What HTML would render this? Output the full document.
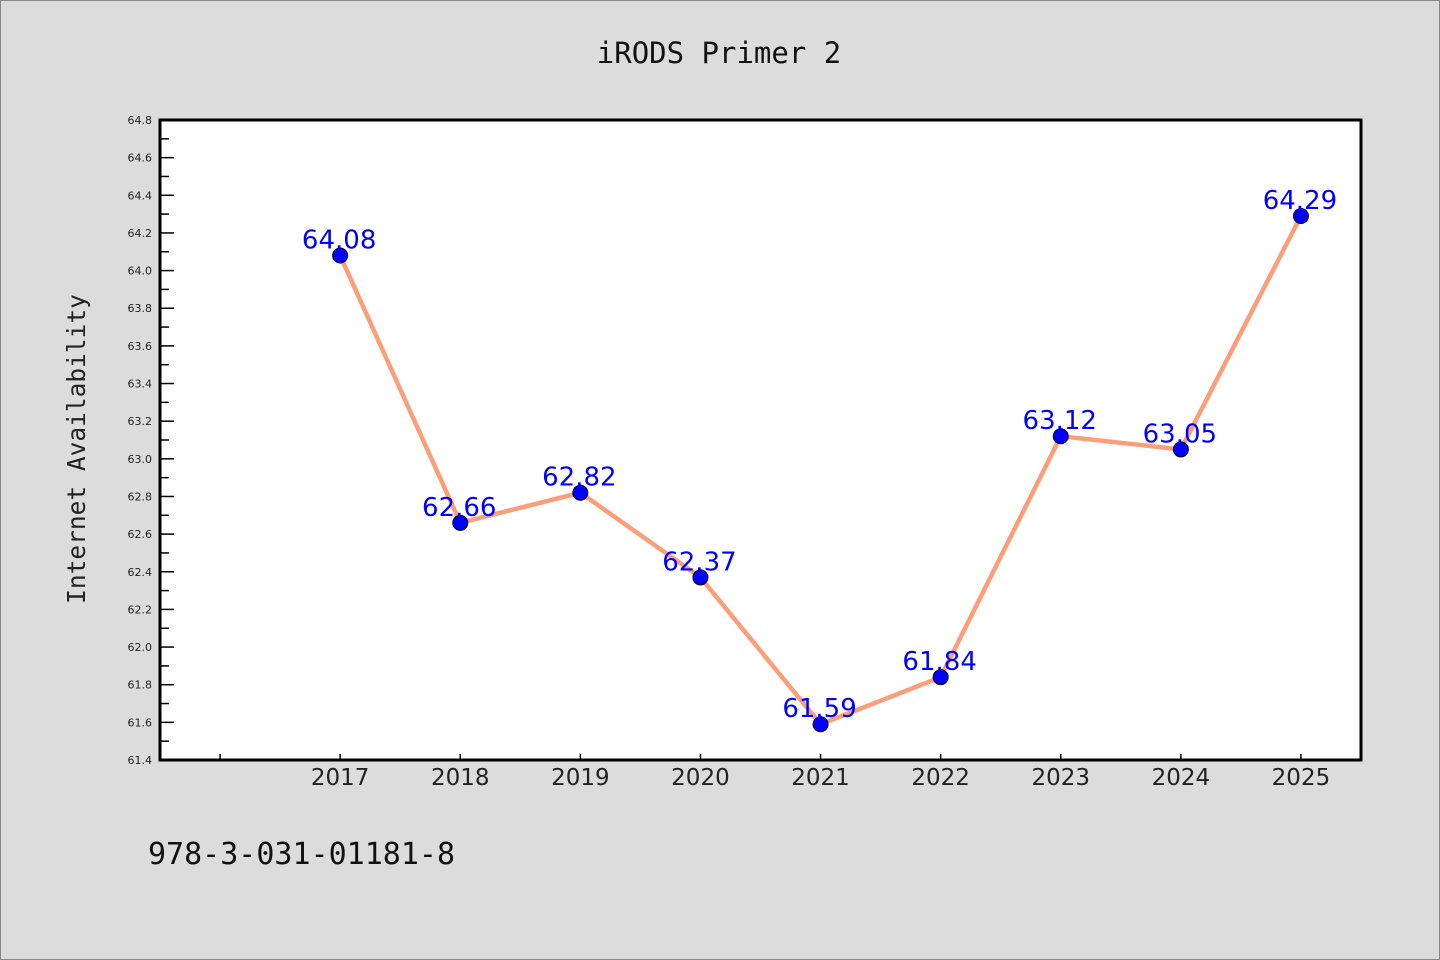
<!DOCTYPE html>
<html><head><meta charset="utf-8"><style>
body{margin:0;background:#dcdcdc;}
svg{display:block;font-family:"DejaVu Sans","Liberation Sans",sans-serif;}
</style></head><body>
<svg id="chart" width="1440" height="960">
<rect x="0.5" y="0.5" width="1439" height="959" fill="#dcdcdc" stroke="#888"/>
<text x="719" y="63" text-anchor="middle" font-family="DejaVu Sans Mono, monospace" font-size="29" fill="#111">iRODS Primer 2</text>
<rect x="160" y="120" width="1201" height="640" fill="#fff"/>
<g id="ticks"></g>
<g id="marks"></g>
<rect x="160" y="120" width="1201" height="640" fill="none" stroke="#000" stroke-width="3"/>
<text transform="translate(85,449) rotate(-90)" text-anchor="middle" font-family="DejaVu Sans Mono, monospace" font-size="24.5" fill="#222">Internet Availability</text>
<text x="148" y="864" font-family="DejaVu Sans Mono, monospace" font-size="30" fill="#111">978-3-031-01181-8</text>
</svg>
<script>
const categories=[2017,2018,2019,2020,2021,2022,2023,2024,2025];
const values=[64.08,62.66,62.82,62.37,61.59,61.84,63.12,63.05,64.29];
const valueLabels=["64.08","62.66","62.82","62.37","61.59","61.84","63.12","63.05","64.29"];
const yTickLabels=["61.4","61.6","61.8","62.0","62.2","62.4","62.6","62.8","63.0","63.2","63.4","63.6","63.8","64.0","64.2","64.4","64.6","64.8"];
const yMin=61.4,yMax=64.8,xMin=2015.5,xMax=2025.5;
const L=160,R=1361,T=120,B=760;
const xs=v=>L+(v-xMin)/(xMax-xMin)*(R-L);
const ys=v=>B-(v-yMin)/(yMax-yMin)*(B-T);
const NS="http://www.w3.org/2000/svg";
function mk(tag,attrs,parent){const e=document.createElementNS(NS,tag);for(const k in attrs)e.setAttribute(k,attrs[k]);parent.appendChild(e);return e;}
const tg=document.getElementById('ticks'),mg=document.getElementById('marks');
yTickLabels.forEach((t,i)=>{
 const v=parseFloat(t),y=ys(v);
 const l=mk('line',{x1:L,x2:L+14,y1:y,y2:y,stroke:'#000','stroke-width':1.5},tg);
 
 
 const tx=mk('text',{x:L-8,y:y+4,'text-anchor':'end','font-size':11,fill:'#222'},tg);
 tx.textContent=t;
 
 
 if(i<yTickLabels.length-1){const ym=ys(v+0.1);
  const m=mk('line',{x1:L,x2:L+9,y1:ym,y2:ym,stroke:'#000','stroke-width':1.5},tg);
  
  }
});
[2016].concat(categories).forEach(c=>{
 const x=xs(c);
 const l=mk('line',{x1:x,x2:x,y1:B,y2:B-6,stroke:'#000','stroke-width':1.5},tg);
 
 
 if(categories.includes(c)){
  const tx=mk('text',{x:x,y:B+25,'text-anchor':'middle','font-size':23,fill:'#222'},tg);
  tx.textContent=String(c);
  
  }
});
const pl=mk('polyline',{points:categories.map((c,i)=>xs(c)+','+ys(values[i])).join(' '),fill:'none',stroke:'#fa9f7a','stroke-width':4.5},mg);


categories.forEach((c,i)=>{
 const x=xs(c),y=ys(values[i]);
 const p=mk('circle',{cx:x,cy:y,r:7.5,fill:'#0000ff',stroke:'#000','stroke-width':1},mg);
 
 
 const t=mk('text',{x:x-1,y:y-7,'text-anchor':'middle','font-size':26,fill:'#0000ff'},mg);
 t.textContent=valueLabels[i];
 
 
});
</script>
</body></html>
